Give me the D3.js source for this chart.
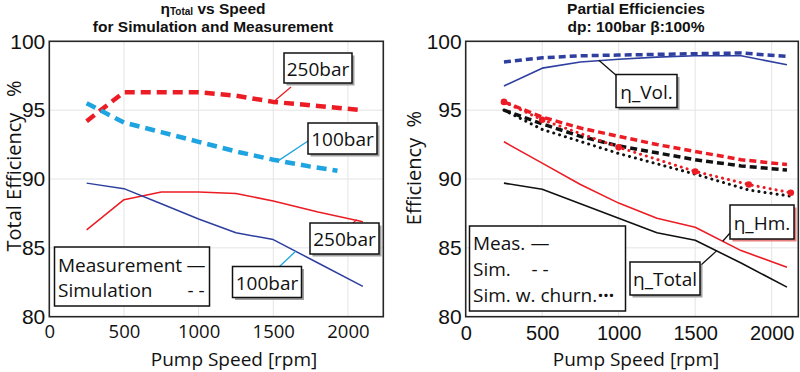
<!DOCTYPE html>
<html>
<head>
<meta charset="utf-8">
<script src="https://cdn.jsdelivr.net/npm/d3@7"></script>
<style>
  body { margin: 0; background: #fff; }
  svg text { fill: #111; }
</style>
</head>
<body>
<svg id="chart" width="800" height="372"></svg>
<script>
// ---- data ----
const xTicks = [0, 500, 1000, 1500, 2000];
const yTicks = [80, 85, 90, 95, 100];

// left plot: total efficiency vs speed
const speedsLeft = [250, 500, 750, 1000, 1250, 1500, 1800, 2100];
const meas250 = [86.3, 88.5, 89.05, 89.05, 88.95, 88.4, 87.6, 86.9];
const meas100 = [89.7, 89.3, 88.2, 87.1, 86.1, 85.6, 83.9, 82.2];
const sim250 = [94.2, 96.3, 96.3, 96.3, 96.05, 95.6, 95.3, 95.0];
const speedsSim100 = [250, 500, 750, 1000, 1250, 1500, 1750, 1930];
const sim100 = [95.5, 94.1, 93.4, 92.7, 92.0, 91.4, 90.9, 90.6];

// right plot: partial efficiencies
const speedsRight = [250, 500, 750, 1000, 1250, 1500, 1800, 2100];
const volMeas = [96.75, 98.05, 98.5, 98.7, 98.85, 98.95, 98.95, 98.3];
const volSim = [98.5, 98.8, 98.95, 99.0, 99.05, 99.1, 99.15, 98.9];
const hmMeas = [92.7, 91.15, 89.6, 88.25, 87.15, 86.5, 84.8, 83.6];
const hmSim = [95.6, 94.5, 93.7, 93.1, 92.5, 92.0, 91.4, 91.05];
const totMeas = [89.7, 89.25, 88.2, 87.15, 86.1, 85.55, 83.9, 82.15];
const totSim = [95.0, 94.0, 93.1, 92.4, 91.9, 91.4, 90.95, 90.65];
const speedsChurn = [250, 500, 1000, 1500, 1850, 2125];
const hmChurn = [95.6, 94.3, 92.3, 90.55, 89.6, 89.0];
const totChurn = [95.0, 93.6, 91.85, 90.35, 89.2, 88.75];

const RED = '#ec1c24', DBLUE = '#2e3f9f', LBLUE = '#1ea4e0', BLACK = '#111';
const SANS = '"Open Sans", "Noto Sans", sans-serif';
const ARIAL = '"Liberation Sans", Arial, sans-serif';

const svg = d3.select('#chart');

function makePanel(opt) {
  const g = svg.append('g');
  const x = d3.scaleLinear().domain([0, opt.xMax]).range([opt.left, opt.right]);
  const y = d3.scaleLinear().domain([80, 100]).range([opt.bottom, opt.top]);

  // gridlines
  g.append('g').selectAll('line.gx').data(xTicks.slice(1)).enter().append('line')
    .attr('x1', d => x(d)).attr('x2', d => x(d))
    .attr('y1', opt.top).attr('y2', opt.bottom)
    .attr('stroke', '#e4e4e4').attr('stroke-width', 1);
  g.append('g').selectAll('line.gy').data(yTicks.slice(1, -1)).enter().append('line')
    .attr('x1', opt.left).attr('x2', opt.right)
    .attr('y1', d => y(d)).attr('y2', d => y(d))
    .attr('stroke', '#e4e4e4').attr('stroke-width', 1);

  // tick labels
  g.append('g').attr('transform', `translate(0,${opt.bottom})`)
    .call(d3.axisBottom(x).tickValues(xTicks).tickSize(0).tickPadding(0).tickFormat(d3.format('d')))
    .call(a => a.select('.domain').remove())
    .selectAll('text')
    .attr('y', opt.xTickY - opt.bottom).attr('dy', '0.35em')
    .style('font-family', opt.xTickFont).style('font-size', opt.xTickSize + 'px').attr('fill', '#111');
  g.append('g').attr('transform', `translate(${opt.left},0)`)
    .call(d3.axisLeft(y).tickValues(yTicks).tickSize(0).tickPadding(4))
    .call(a => a.select('.domain').remove())
    .selectAll('text')
    .style('font-family', ARIAL).style('font-size', '21px').attr('fill', '#111');

  // axis labels
  g.append('text').attr('x', opt.xLabelX).attr('y', 359).attr('dy', '0.35em')
    .attr('text-anchor', 'middle').style('font-family', SANS).style('font-size', '19px')
    .text('Pump Speed [rpm]');
  g.append('text')
    .attr('transform', `translate(${opt.yLabelX},${opt.yLabelY}) rotate(-90)`)
    .attr('text-anchor', 'middle').attr('dy', '0.35em')
    .style('font-family', SANS).style('font-size', '20px')
    .style('white-space', 'pre')
    .text(opt.yLabel);

  return { g, x, y };
}

function drawLine(p, xs, ys, color, width, dash, cap) {
  const line = d3.line().x((d, i) => p.x(xs[i])).y(d => p.y(d));
  p.g.append('path').datum(ys)
    .attr('d', line).attr('fill', 'none')
    .attr('stroke', color).attr('stroke-width', width)
    .attr('stroke-dasharray', dash || null)
    .attr('stroke-linecap', cap || 'butt')
    .attr('stroke-linejoin', 'round');
}

function frame(p, opt) {
  p.g.append('rect')
    .attr('x', opt.left).attr('y', opt.top)
    .attr('width', opt.right - opt.left).attr('height', opt.bottom - opt.top)
    .attr('fill', 'none').attr('stroke', '#262626').attr('stroke-width', 1.6);
}

function labelBox(g, bx, by, w, h, txt, shadow) {
  g.append('rect').attr('x', bx + 2.5).attr('y', by + 2.5).attr('width', w).attr('height', h)
    .attr('fill', shadow || '#a0a0a0');
  g.append('rect').attr('x', bx).attr('y', by).attr('width', w).attr('height', h)
    .attr('fill', '#fff').attr('stroke', BLACK).attr('stroke-width', 1.5);
  g.append('text').attr('x', bx + w / 2).attr('y', by + h / 2 + 1).attr('dy', '0.35em')
    .attr('text-anchor', 'middle').style('font-family', SANS).style('font-size', '19px')
    .text(txt);
}

function leader(g, x1, y1, x2, y2, color) {
  g.append('line').attr('x1', x1).attr('y1', y1).attr('x2', x2).attr('y2', y2)
    .attr('stroke', color).attr('stroke-width', 1.3);
}

// ---------------- left panel ----------------
const L = { left: 49.3, right: 383.3, top: 41.3, bottom: 316.7, xMax: 2237,
  xTickY: 332, xTickFont: SANS, xTickSize: 18.5, xLabelX: 234, yLabelX: 14, yLabelY: 166,
  yLabel: 'Total Efficiency   %' };
const pl = makePanel(L);

drawLine(pl, speedsLeft, meas250, RED, 1.5);
drawLine(pl, speedsLeft, meas100, DBLUE, 1.5);
drawLine(pl, speedsLeft, sim250, RED, 4.5, '10 6');
drawLine(pl, speedsSim100, sim100, LBLUE, 4.5, '10 6');
frame(pl, L);

// annotations
leader(pl.g, 291, 87, pl.x(1500), pl.y(sim250[5]), RED);
labelBox(pl.g, 284, 53, 68, 30, '250bar');
leader(pl.g, 308, 141, pl.x(1530), pl.y(91.3), LBLUE);
labelBox(pl.g, 308, 123, 69, 31, '100bar');
leader(pl.g, 353, 223, pl.x(2060), pl.y(87.05), RED);
labelBox(pl.g, 310, 223, 69, 31, '250bar');
leader(pl.g, 279, 267, pl.x(1650), pl.y(84.75), LBLUE);
labelBox(pl.g, 232.5, 266.5, 69, 31, '100bar');

// legend
const lgL = pl.g.append('g');
lgL.append('rect').attr('x', 54.5).attr('y', 247).attr('width', 155).attr('height', 59)
  .attr('fill', '#fff').attr('stroke', BLACK).attr('stroke-width', 1.5);
[['Measurement', '—', 265], ['Simulation', '- -', 290]].forEach(r => {
  lgL.append('text').attr('x', 58).attr('y', r[2]).attr('dy', '0.35em')
    .style('font-family', SANS).style('font-size', '19px').text(r[0]);
  lgL.append('text').attr('x', 196).attr('y', r[2]).attr('dy', '0.35em').attr('text-anchor', 'middle')
    .style('font-family', SANS).style('font-size', '19px').text(r[1]);
});

// title
const TFS = '15.5px';
const tl = svg.append('text').attr('x', 213).attr('y', 14).attr('text-anchor', 'middle')
  .style('font-family', ARIAL).style('font-weight', 'bold').style('font-size', TFS);
tl.append('tspan').text('η');
tl.append('tspan').style('font-size', '10px').attr('dy', 1).text('Total');
tl.append('tspan').attr('dy', -1).text(' vs Speed');
svg.append('text').attr('x', 213).attr('y', 32).attr('text-anchor', 'middle')
  .style('font-family', ARIAL).style('font-weight', 'bold').style('font-size', TFS)
  .text('for Simulation and Measurement');

// ---------------- right panel ----------------
const R = { left: 465.7, right: 798.3, top: 41.3, bottom: 316.7, xMax: 2174,
  xTickY: 333, xTickFont: ARIAL, xTickSize: 20, xLabelX: 636, yLabelX: 414, yLabelY: 168,
  yLabel: 'Efficiency  %' };
const pr = makePanel(R);

drawLine(pr, speedsRight, volMeas, DBLUE, 1.6);
drawLine(pr, speedsRight, volSim, DBLUE, 3.5, '7 4');
drawLine(pr, speedsRight, hmMeas, RED, 1.6);
drawLine(pr, speedsRight, totMeas, BLACK, 1.6);
drawLine(pr, speedsRight, hmSim, RED, 3.5, '7 4');
drawLine(pr, speedsRight, totSim, BLACK, 3.5, '7 4');
drawLine(pr, speedsChurn, totChurn, BLACK, 3, '0.1 6', 'round');
drawLine(pr, speedsChurn, hmChurn, RED, 3, '0.1 6', 'round');
pr.g.append('g').selectAll('circle').data(hmChurn).enter().append('circle')
  .attr('cx', (d, i) => pr.x(speedsChurn[i])).attr('cy', d => pr.y(d))
  .attr('r', 3.3).attr('fill', RED);
frame(pr, R);

// annotations
leader(pr.g, 617, 76, pr.x(870), pr.y(98.62), BLACK);
labelBox(pr.g, 616, 74.5, 61, 33, 'η_Vol.');
leader(pr.g, 730, 233, pr.x(1680), pr.y(85.48), BLACK);
labelBox(pr.g, 730, 205, 64, 34, 'η_Hm.', '#e88080');
leader(pr.g, 701, 265, pr.x(1640), pr.y(84.78), BLACK);
labelBox(pr.g, 630, 262, 70, 33, 'η_Total');

// legend
const lgR = pr.g.append('g');
lgR.append('rect').attr('x', 469.5).attr('y', 226).attr('width', 156).attr('height', 85)
  .attr('fill', '#fff').attr('stroke', BLACK).attr('stroke-width', 1.5);
[['Meas.', '—', 243, 540], ['Sim.', '- -', 269, 540], ['Sim. w. churn.', '···', 295, 606]].forEach(r => {
  lgR.append('text').attr('x', 473).attr('y', r[2]).attr('dy', '0.35em')
    .style('font-family', SANS).style('font-size', '19px').text(r[0]);
  lgR.append('text').attr('x', r[3]).attr('y', r[2]).attr('dy', '0.35em').attr('text-anchor', 'middle')
    .style('font-family', SANS).style('font-size', '19px').style('font-weight', r[1] === '···' ? 'bold' : null)
    .text(r[1]);
});

// title
svg.append('text').attr('x', 636).attr('y', 14).attr('text-anchor', 'middle')
  .style('font-family', ARIAL).style('font-weight', 'bold').style('font-size', TFS)
  .text('Partial Efficiencies');
svg.append('text').attr('x', 636).attr('y', 32).attr('text-anchor', 'middle')
  .style('font-family', ARIAL).style('font-weight', 'bold').style('font-size', TFS)
  .text('dp: 100bar β:100%');
</script>
</body>
</html>
